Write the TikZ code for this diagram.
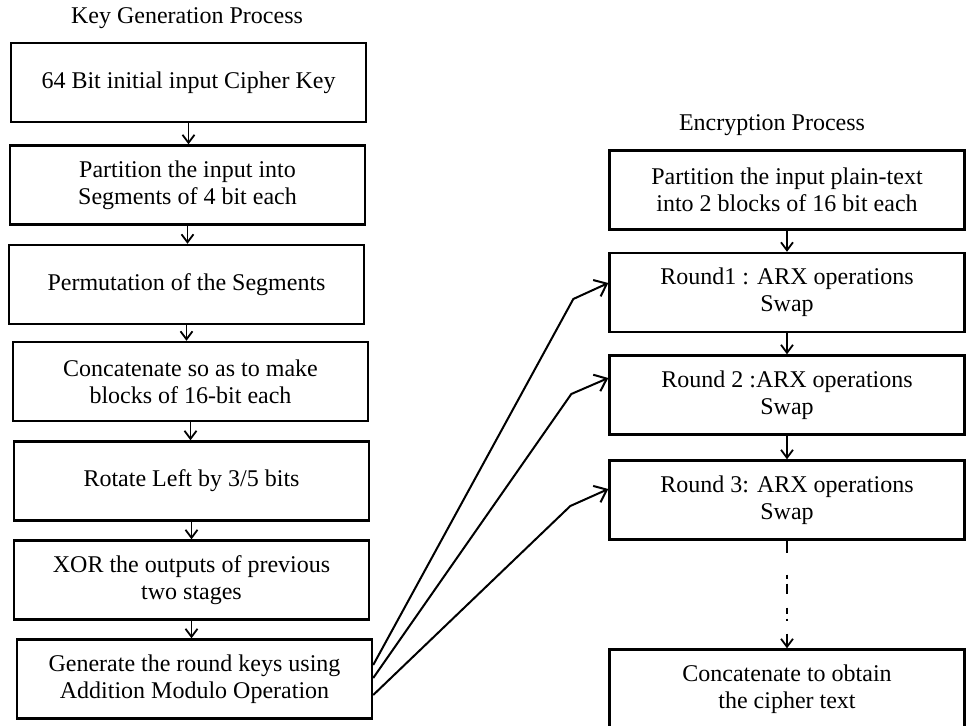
\documentclass[tikz,border=0pt]{standalone}
\usepackage{fontspec}
\setmainfont{Liberation Serif}
\usetikzlibrary{arrows.meta,calc}
\tikzset{
  stagebox/.style={draw,line width=1.2pt,minimum width=177.5pt,minimum height=39.5pt,
    inner sep=0pt,align=center,font=\fontsize{12}{13.5}\selectfont},
  headtext/.style={inner sep=0pt,font=\fontsize{12}{13.5}\selectfont},
  downarrow/.style={-{Straight Barb[length=4pt,width=6pt]},line width=0.9pt},
  keyarrow/.style={-{Straight Barb[length=5.5pt,width=9pt]},line width=1pt}
}

\begin{document}
\begin{tikzpicture}[x=0.5pt,y=-0.5pt]
\useasboundingbox (0,0) rectangle (967,726);

\node[headtext] (keytitle) at (187,18.5) {Key Generation Process};
\node[stagebox] (keyin) at (188.5,82.5) {64 Bit initial input Cipher Key};
\node[stagebox] (segpart) at (187.5,185) {Partition the input into\\Segments of 4 bit each};
\node[stagebox] (perm) at (186.5,284.5) {Permutation of the Segments};
\node[stagebox] (concat) at (190.5,381.5) {Concatenate so as to make\\blocks of 16-bit each};
\node[stagebox] (rotl) at (191.5,481) {Rotate Left by 3/5 bits};
\node[stagebox] (xorout) at (191.5,580) {XOR the outputs of previous\\two stages};
\node[stagebox] (roundkey) at (194.5,679) {Generate the round keys using\\Addition Modulo Operation};

\node[headtext] (enctitle) at (772,125.5) {Encryption Process};
\node[stagebox] (plainpart) at (787,190) {Partition the input plain-text\\into 2 blocks of 16 bit each};
\node[stagebox] (roundone) at (787,292.5) {Round1 : ARX operations\\Swap};
\node[stagebox] (roundtwo) at (787,395) {Round 2 :ARX operations\\Swap};
\node[stagebox] (roundthree) at (787,500) {Round 3: ARX operations\\Swap};
\node[stagebox] (cipherout) at (787,689) {Concatenate to obtain\\the cipher text};

\draw[downarrow] (keyin.south) -- (keyin.south |- segpart.north);
\draw[downarrow] (segpart.south) -- (segpart.south |- perm.north);
\draw[downarrow] (perm.south) -- (perm.south |- concat.north);
\draw[downarrow] (concat.south) -- (concat.south |- rotl.north);
\draw[downarrow] (rotl.south) -- (rotl.south |- xorout.north);
\draw[downarrow] (xorout.south) -- (xorout.south |- roundkey.north);

\draw[downarrow] (plainpart.south) -- (plainpart.south |- roundone.north);
\draw[downarrow] (roundone.south) -- (roundone.south |- roundtwo.north);
\draw[downarrow] (roundtwo.south) -- (roundtwo.south |- roundthree.north);
\draw[downarrow,dash pattern=on 6pt off 11pt on 2pt off 2.5pt on 5pt off 7pt on 3pt off 2.5pt on 1pt off 6.5pt on 10pt]
  (roundthree.south) -- (roundthree.south |- cipherout.north);

\draw[keyarrow] ($(roundkey.east)+(0,-14)$) -- ($(roundone.west)+(-35,6.5)$) -- ($(roundone.west)+(0,-9.5)$);
\draw[keyarrow] ($(roundkey.east)+(0,-1)$) -- ($(roundtwo.west)+(-37,-1)$) -- ($(roundtwo.west)+(0,-17)$);
\draw[keyarrow] ($(roundkey.east)+(0,16)$) -- ($(roundthree.west)+(-38,6)$) -- ($(roundthree.west)+(0,-11)$);

\end{tikzpicture}
\end{document}
